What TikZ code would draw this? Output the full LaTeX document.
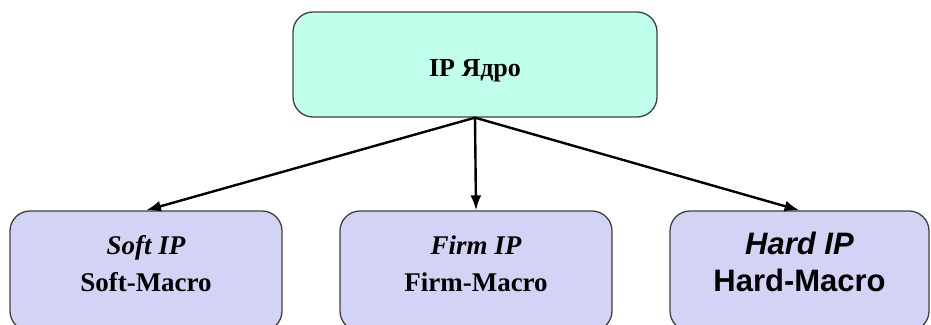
\documentclass[tikz,border=0pt]{standalone}
\usepackage{fontspec}
\setmainfont{Liberation Serif}
\newfontfamily\arialfont{Liberation Sans}
\usepackage{tikz}
\usetikzlibrary{arrows.meta}

\definecolor{corefill}{RGB}{191,255,236}
\definecolor{typefill}{RGB}{211,211,245}

\begin{document}
\begin{tikzpicture}[x=1pt,y=-1pt,
        box/.style={draw=black!75,line width=1.3pt,rounded corners=20pt,inner sep=0pt,align=center},
        typebox/.style={box,fill=typefill,minimum width=272pt,minimum height=120pt,text height=60pt,text depth=20pt},
        arr/.style={-{Latex[length=15pt,width=11pt]},line width=2.4pt}]
                \useasboundingbox (0,0) rectangle (931,324);
                \node[box,fill=corefill,minimum width=364pt,minimum height=105pt,text height=23pt,text depth=0pt,font=\bfseries\fontsize{26}{30}\selectfont] (core) at (475,64.5) {IP Ядро};
                \node[typebox,font=\bfseries\fontsize{27}{37}\selectfont] (soft) at (146,271) {\textit{Soft IP}\\Soft-Macro};
                \node[typebox,font=\bfseries\fontsize{27}{37}\selectfont] (firm) at (476,271) {\textit{Firm IP}\\Firm-Macro};
                \node[typebox,minimum width=259pt,font=\arialfont\bfseries\fontsize{31}{37}\selectfont] (hard) at (799.5,271) {\textit{Hard IP}\\Hard-Macro};
                \draw[arr] (core.south) -- (soft.north);
                \draw[arr] (core.south) -- (firm.north);
                \draw[arr] (core.south) -- (hard.north);
            \end{tikzpicture}
\end{document}
